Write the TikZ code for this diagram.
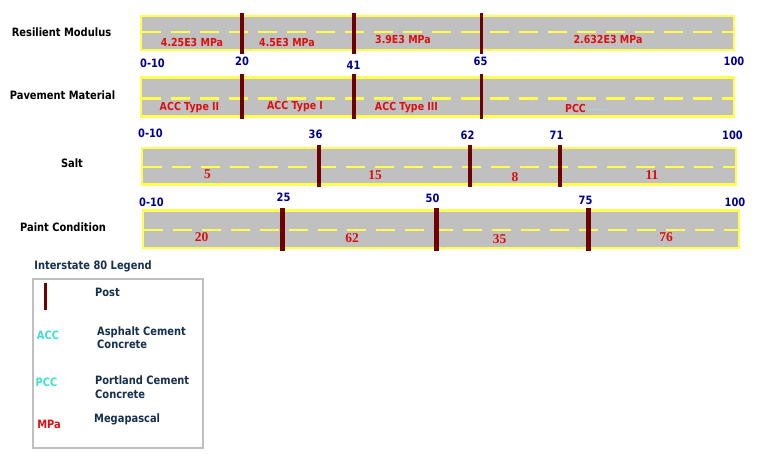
\documentclass[tikz,border=0pt]{standalone}
\usepackage{fontspec}
\newfontfamily\tah{DejaVu Sans}[FakeStretch=0.86]
\newfontfamily\tms{Liberation Serif}
\definecolor{bandgray}{RGB}{192,192,192}
\definecolor{roadyellow}{RGB}{255,255,80}
\definecolor{postred}{RGB}{110,0,0}
\definecolor{segred}{RGB}{218,16,16}
\definecolor{kmblue}{RGB}{0,0,140}
\definecolor{legendtext}{RGB}{22,48,78}
\definecolor{legendcyan}{RGB}{64,224,208}
\definecolor{pccghost}{RGB}{170,210,225}
\definecolor{legendgray}{RGB}{192,192,192}
\begin{document}
\begin{tikzpicture}[x=1pt,y=-1pt,
  rowlabel/.style={font=\tah\bfseries\fontsize{11.5}{13}\selectfont, text=black, anchor=base, inner sep=0pt},
  kmnum/.style={font=\tah\bfseries\fontsize{11.5}{13}\selectfont, text=kmblue, anchor=base, inner sep=0pt},
  seglabel/.style={font=\tah\bfseries\fontsize{11}{12}\selectfont, text=segred, anchor=base, inner sep=0pt},
  segnum/.style={font=\tms\bfseries\fontsize{13.5}{14}\selectfont, text=segred, anchor=base, inner sep=0pt},
  legtitle/.style={font=\tah\bfseries\fontsize{11.5}{13}\selectfont, text=legendtext, anchor=base, inner sep=0pt},
  legtext/.style={font=\tah\bfseries\fontsize{11.5}{13}\selectfont, text=legendtext, anchor=base west, inner sep=0pt, align=left},
  legabbr/.style={font=\tah\bfseries\fontsize{11.5}{13}\selectfont, anchor=base, inner sep=0pt},
  band/.style={fill=bandgray, draw=roadyellow, line width=2.5pt},
  centerline/.style={draw=roadyellow, line width=2.5pt, dash pattern=on 19pt off 10pt},
  post/.style={draw=postred, line width=3.5pt},
  widepost/.style={draw=postred, line width=5pt},
  legendbox/.style={draw=legendgray, line width=2pt}
]
\useasboundingbox[fill=white] (0,0) rectangle (760,454);

% ---------------- Resilient Modulus ----------------
\node[rowlabel] (lblRM) at (61.5,36.5) {Resilient Modulus};
\draw[band] (141,16) rectangle (734,50);
\draw[centerline] (142,32) -- (733,32);
\foreach \x in {242,354,481.5} \draw[post] (\x,13) -- (\x,54);
\node[seglabel] (rm1) at (192,46.5) {4.25E3 MPa};
\node[seglabel] (rm2) at (287,46.5) {4.5E3 MPa};
\node[seglabel] (rm3) at (403,43.5) {3.9E3 MPa};
\node[seglabel] (rm4) at (608,43.5) {2.632E3 MPa};
\node[kmnum] (rmk0) at (152.5,68) {0-10};
\node[kmnum] (rmk1) at (242,66) {20};
\node[kmnum] (rmk2) at (353.5,69.5) {41};
\node[kmnum] (rmk3) at (480.5,66) {65};
\node[kmnum] (rmk4) at (734,66) {100};

% ---------------- Pavement Material ----------------
\node[rowlabel] (lblPM) at (62.5,100) {Pavement Material};
\draw[band] (141,77.5) rectangle (734,116.5);
\draw[centerline] (142,98.5) -- (733,98.5);
\foreach \x in {242,354,481.5} \draw[post] (\x,74) -- (\x,119);
\node[seglabel] (pm1) at (189.5,110.5) {ACC Type II};
\node[seglabel] (pm2) at (295,110) {ACC Type I};
\node[seglabel] (pm3) at (406.5,111) {ACC Type III};
\node[seglabel] (pm4) at (575.5,113) {PCC};
\draw[pccghost, line width=1.5pt] (587,109.5) -- (606,109.5);

% ---------------- Salt ----------------
\node[rowlabel] (lblS) at (72,168) {Salt};
\node[kmnum] (sk0) at (150.5,137.5) {0-10};
\node[kmnum] (sk1) at (315.5,139) {36};
\node[kmnum] (sk2) at (467.5,140) {62};
\node[kmnum] (sk3) at (556.5,140) {71};
\node[kmnum] (sk4) at (732.5,140) {100};
\draw[band] (142,148) rectangle (736,184.5);
\draw[centerline] (143,167) -- (735,167);
\foreach \x in {319,470,560} \draw[post] (\x,145) -- (\x,187);
\node[segnum] (s1) at (207.5,179) {5};
\node[segnum] (s2) at (375,180) {15};
\node[segnum] (s3) at (515,181.5) {8};
\node[segnum] (s4) at (652,180) {11};

% ---------------- Paint Condition ----------------
\node[rowlabel] (lblPC) at (63,232) {Paint Condition};
\node[kmnum] (pk0) at (151.5,207) {0-10};
\node[kmnum] (pk1) at (283.5,202) {25};
\node[kmnum] (pk2) at (432.5,203) {50};
\node[kmnum] (pk3) at (585.5,205) {75};
\node[kmnum] (pk4) at (735,207) {100};
\draw[band] (143,210.5) rectangle (739,248);
\draw[centerline] (144,230) -- (738,230);
\foreach \x in {282.5,436,588.5} \draw[widepost] (\x,208) -- (\x,251);
\node[segnum] (p1) at (201.5,242) {20};
\node[segnum] (p2) at (352,242.5) {62};
\node[segnum] (p3) at (499.5,243.5) {35};
\node[segnum] (p4) at (666,242) {76};

% ---------------- Legend ----------------
\node[legtitle] (legtitle) at (93,269.5) {Interstate 80 Legend};
\draw[legendbox] (33,279) rectangle (203,448);
\draw[draw=postred, line width=3pt] (45.5,283) -- (45.5,310);
\node[legtext] (legpost) at (95,297) {Post};
\node[legabbr, text=legendcyan] (legacc) at (48,339.5) {ACC};
\node[legtext] (legacct) at (97,335) {Asphalt Cement};
\node[legtext] (legacct2) at (97,348) {Concrete};
\node[legabbr, text=legendcyan] (legpcc) at (46.5,386) {PCC};
\node[legtext] (legpcct) at (95,384.5) {Portland Cement};
\node[legtext] (legpcct2) at (95,398) {Concrete};
\node[legabbr, text=segred] (legmpa) at (49,428) {MPa};
\node[legtext] (legmpat) at (94,422) {Megapascal};
\end{tikzpicture}
\end{document}
